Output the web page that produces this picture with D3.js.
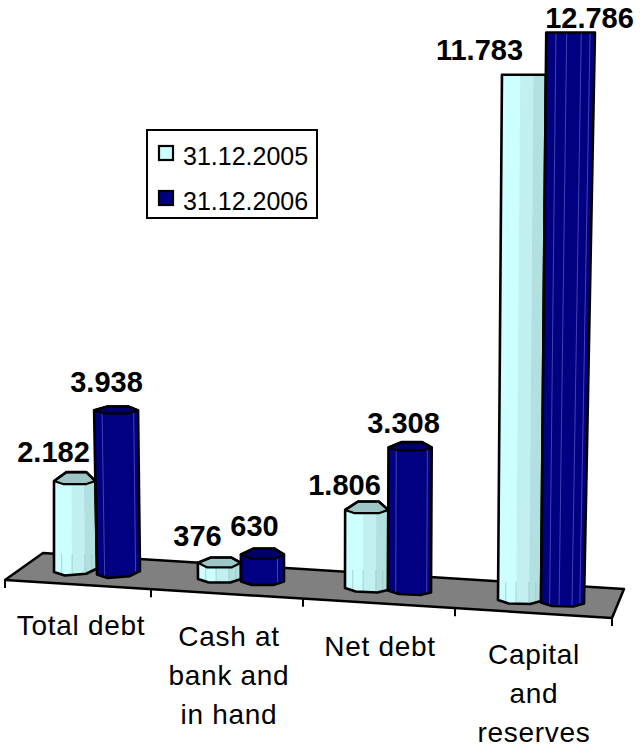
<!DOCTYPE html>
<html>
<head>
<meta charset="utf-8">
<script src="https://cdn.jsdelivr.net/npm/d3@7"></script>
<style>
html, body { margin: 0; padding: 0; background: #fff; }
svg { display: block; }
text { font-family: "Liberation Sans", Arial, sans-serif; fill: #000; }
</style>
</head>
<body>
<svg id="chart" width="643" height="748"></svg>
<script>
// Values
const categories = [["Total debt"], ["Cash at", "bank and", "in hand"], ["Net debt"], ["Capital", "and", "reserves"]];
const seriesNames = ["31.12.2005", "31.12.2006"];
const values2005 = [2182, 376, 1806, 11783];
const values2006 = [3938, 630, 3308, 12786];
const valueLabels2005 = ["2.182", "376", "1.806", "11.783"];
const valueLabels2006 = ["3.938", "630", "3.308", "12.786"];

// Perspective layout
const groupLeft = d3.scaleLinear().domain([0, 1, 2, 3]).range([54, 198, 345, 498]);
const groupBase = d3.scaleLinear().domain([0, 1, 2, 3]).range([572, 579, 588, 600]);
const groupDepth = [0.935, 0.965, 0.97, 1];
const barTilt = [-3.5, 0, 2, 1];
const heightScale = d3.scaleLinear().domain([0, 12786]).range([0, 570]);
const capBack = d3.scaleLinear().domain([0, 90, 170, 400]).range([4.5, 9, 3.5, 0]).clamp(true);
const capFront = d3.scaleLinear().domain([0, 90, 170, 400]).range([5, 3, 3, 0]).clamp(true);
const barWidth = 43;
// Sideways drift per pixel of height, growing away from the vanishing line
const leanRate = d3.scaleLinear()
  .domain([54, 97, 138, 300, 432, 541, 584])
  .range([0, -0.0176, -0.012, 0, 0.005, 0.0092, 0.0192]);
const lean = (x, h) => leanRate(x) * h;

// Floor plane and axis
const tickX = d3.scaleLinear().domain([0, 1, 2, 3, 4]).range([5, 151, 303, 455, 612]);
const frontY = d3.scaleLinear().domain([5, 612]).range([580, 618]);
const floorCorners = [[5, 580], [43, 553], [624, 589], [612, 618]];

const labelX = [81, 229, 380, 534];
const labelY = [625, 636, 646, 654];
const labelDx = [[-22, -12], [-22, -8], [-22, -6], [-40, 27]];
const labelDy = [[-10, -14], [-12, -13], [-6, -9], [-15, -5]];

const svg = d3.select("#chart");
const line = d3.line();
const defs = svg.append("defs");

svg.append("path")
  .attr("d", line(floorCorners) + "Z")
  .attr("fill", "#808080").attr("stroke", "#000").attr("stroke-width", 2.5).attr("stroke-linejoin", "round");

svg.append("g").selectAll("line").data(d3.range(5)).join("line")
  .attr("x1", d => tickX(d)).attr("x2", d => tickX(d))
  .attr("y1", d => frontY(tickX(d))).attr("y2", d => frontY(tickX(d)) + 8)
  .attr("stroke", "#000").attr("stroke-width", 2);

// One faceted prism standing on the floor
function drawBar(group, cat, seriesIdx, value, text) {
  const x0 = groupLeft(cat) + seriesIdx * barWidth;
  const base = groupBase(cat) + seriesIdx * 2.5;
  const h = heightScale(value) * groupDepth[cat];
  const tilt = barTilt[cat];
  const back = capBack(h), front = capFront(h);
  const fx = f => x0 + f * barWidth;
  const up = (f, hh) => fx(f) + lean(fx(f), hh);

  const top = base - h;
  const outline = [
    [up(0, h), top],
    [up(0.3, h), top - back],
    [up(0.78, h), top - back],
    [up(1, h), top],
    [fx(1), base + tilt],
    [fx(0.75), base + 3.5 + tilt / 2],
    [fx(0.25), base + 3.5],
    [fx(0), base]
  ];
  const capShape = [
    [up(0, h), top],
    [up(0.3, h), top - back],
    [up(0.78, h), top - back],
    [up(1, h), top],
    [up(0.78, h), top + front],
    [up(0.22, h), top + front]
  ];

  const id = `bar-${cat}-${seriesIdx}`;
  defs.append("clipPath").attr("id", id).append("path").attr("d", line(outline) + "Z");

  const g = group.append("g");
  const dark = seriesIdx === 1;
  g.append("path").attr("d", line(outline) + "Z").attr("fill", dark ? "#000080" : "#ccffff");

  const body = g.append("g").attr("clip-path", `url(#${id})`);
  if (!dark) {
    [[0.42, 0.72, "#c2f0f0"], [0.72, 1, "#b2e0e0"]].forEach(([a, b, c]) => {
      body.append("path")
        .attr("d", line([[up(a, h), top - 12], [up(b, h), top - 12], [fx(b), base + 8], [fx(a), base + 8]]) + "Z")
        .attr("fill", c);
    });
    [0.18, 0.42, 0.72, 0.88].forEach(f => {
      body.append("line")
        .attr("x1", fx(f)).attr("x2", fx(f))
        .attr("y1", base - Math.min(18, h * 0.8)).attr("y2", base + 6)
        .attr("stroke", "#9fc6c6").attr("stroke-width", 0.8);
    });
  } else {
    const stops = h > 300 ? [0.2, 0.42, 0.72, 0.9] : h > 60 ? [0.18, 0.9] : [0.85];
    stops.forEach(f => {
      body.append("line")
        .attr("x1", up(f, h)).attr("y1", top)
        .attr("x2", fx(f)).attr("y2", base + 6)
        .attr("stroke", "#4a4ab8").attr("stroke-width", 0.9);
    });
  }
  if (back > 0.5) {
    g.append("path").attr("d", line(capShape) + "Z")
      .attr("fill", dark ? "#00006a" : "#9fc6c6")
      .attr("stroke", "#000").attr("stroke-width", 2.2).attr("stroke-linejoin", "round");
  }
  g.append("path").attr("d", line(outline) + "Z")
    .attr("fill", "none").attr("stroke", "#000").attr("stroke-width", 2.6).attr("stroke-linejoin", "round");

  svg.append("text")
    .attr("x", fx(0.5) + labelDx[cat][seriesIdx])
    .attr("y", top - back + labelDy[cat][seriesIdx])
    .attr("text-anchor", "middle")
    .attr("font-size", 29).attr("font-weight", "bold")
    .text(text);
}

const bars = svg.append("g");
categories.forEach((_, i) => {
  drawBar(bars, i, 0, values2005[i], valueLabels2005[i]);
  drawBar(bars, i, 1, values2006[i], valueLabels2006[i]);
});

// Category labels under the floor
categories.forEach((lines, i) => {
  const t = svg.append("text").attr("text-anchor", "middle")
    .attr("font-size", 28).attr("letter-spacing", 0.7);
  lines.forEach((s, k) => {
    t.append("tspan").attr("x", labelX[i]).attr("y", labelY[i] + 10 + k * 39).text(s);
  });
});

// Legend
const legend = svg.append("g");
legend.append("rect").attr("x", 147).attr("y", 130).attr("width", 170).attr("height", 88)
  .attr("fill", "#fff").attr("stroke", "#000").attr("stroke-width", 2);
const swatches = ["#ccffff", "#000080"];
const legendY = d3.scalePoint().domain(seriesNames).range([153, 198]);
seriesNames.forEach((name, i) => {
  legend.append("rect").attr("x", 159).attr("y", legendY(name) - 7).attr("width", 14).attr("height", 14)
    .attr("fill", swatches[i]).attr("stroke", "#000").attr("stroke-width", 2.2);
  legend.append("text").attr("x", 183).attr("y", legendY(name) + 12)
    .attr("font-size", 25).text(name);
});
</script>
</body>
</html>
